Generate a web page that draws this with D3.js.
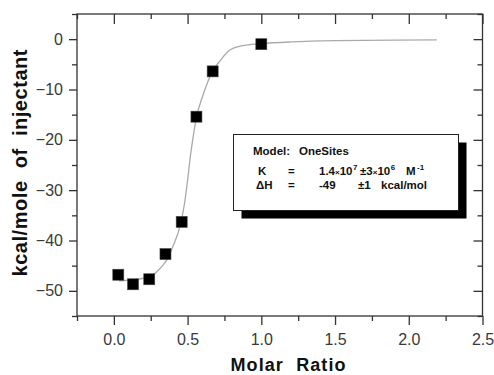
<!DOCTYPE html>
<html>
<head>
<meta charset="utf-8">
<script src="https://cdn.jsdelivr.net/npm/d3@7"></script>
<style>
  body { margin: 0; background: #fff; }
  svg { display: block; font-family: "Liberation Sans", Arial, sans-serif; }
</style>
</head>
<body>
<svg id="chart" width="494" height="375"></svg>
<script>
// injection points
const molarRatio = [0.03, 0.13, 0.24, 0.35, 0.46, 0.56, 0.67, 1.0]
const heat = [-46.8, -48.7, -47.7, -42.7, -36.3, -15.4, -6.4, -1.0]

// fitted curve
const fitX = [0.035, 0.1, 0.2, 0.28, 0.33, 0.37, 0.40, 0.45, 0.48, 0.50, 0.52, 0.54, 0.56, 0.60, 0.63, 0.67, 0.72, 0.78, 0.87, 1.0, 1.2, 1.5, 1.9, 2.19]
const fitY = [-48.0, -47.9, -47.5, -46.5, -45.0, -43.3, -41.2, -37.0, -32.5, -28.0, -23.0, -19.0, -15.5, -11.5, -9.0, -6.3, -4.3, -2.3, -1.3, -0.9, -0.55, -0.3, -0.2, -0.15]

const xMajor = [0.0, 0.5, 1.0, 1.5, 2.0, 2.5]
const xMinor = [-0.25, 0.25, 0.75, 1.25, 1.75, 2.25]
const yMajor = [-50, -40, -30, -20, -10, 0]
const yMinor = [-55, -45, -35, -25, -15, -5, 5]

const margin = { top: 14, left: 77, right: 11.5, bottom: 59 },
    width = 494 - margin.left - margin.right,
    height = 375 - margin.top - margin.bottom

const svg = d3.select("#chart")
const g = svg.append("g").attr("transform", `translate(${margin.left},${margin.top})`)

const x = d3.scaleLinear().domain([-0.25, 2.5]).range([0, width])
const y = d3.scaleLinear().domain([-55, 5]).range([height, 0])

const frameColor = "#333"
const fmtX = d3.format(".1f")

function styleAxis(sel) {
    sel.select(".domain").remove()
    sel.selectAll("line").attr("stroke", frameColor).attr("stroke-width", 1.3)
    sel.selectAll("text")
        .attr("fill", "#3a3a3a")
        .style("font-size", "16px")
        .style("font-family", "'Liberation Sans', Arial, sans-serif")
}

// bottom axis
g.append("g").attr("transform", `translate(0,${height})`)
    .call(d3.axisBottom(x).tickValues(xMajor).tickSize(9).tickPadding(9).tickFormat(fmtX))
    .call(styleAxis)
g.append("g").attr("transform", `translate(0,${height})`)
    .call(d3.axisBottom(x).tickValues(xMinor).tickSize(5).tickFormat(""))
    .call(styleAxis)

// left axis
g.append("g")
    .call(d3.axisLeft(y).tickValues(yMajor).tickSize(8).tickPadding(6))
    .call(styleAxis)
g.append("g")
    .call(d3.axisLeft(y).tickValues(yMinor).tickSize(5).tickFormat(""))
    .call(styleAxis)

// top axis, ticks inward
g.append("g")
    .call(d3.axisTop(x).tickValues(xMajor).tickSize(-10).tickFormat(""))
    .call(styleAxis)
g.append("g")
    .call(d3.axisTop(x).tickValues(xMinor).tickSize(-5).tickFormat(""))
    .call(styleAxis)

// right axis, ticks inward
g.append("g").attr("transform", `translate(${width},0)`)
    .call(d3.axisRight(y).tickValues(yMajor).tickSize(-9).tickFormat(""))
    .call(styleAxis)
g.append("g").attr("transform", `translate(${width},0)`)
    .call(d3.axisRight(y).tickValues(yMinor).tickSize(-5).tickFormat(""))
    .call(styleAxis)

// frame
g.append("rect")
    .attr("width", width)
    .attr("height", height)
    .attr("fill", "none")
    .attr("stroke", frameColor)
    .attr("stroke-width", 1.3)

// fit line
const line = d3.line()
    .x((d, i) => x(fitX[i]))
    .y((d, i) => y(fitY[i]))
    .curve(d3.curveMonotoneX)

g.append("path")
    .datum(fitX)
    .attr("d", line)
    .attr("fill", "none")
    .attr("stroke", "#aaa")
    .attr("stroke-width", 1.3)

// data squares
const sq = 11
g.selectAll("rect.pt")
    .data(molarRatio)
    .enter()
    .append("rect")
    .attr("class", "pt")
    .attr("x", d => x(d) - sq / 2)
    .attr("y", (d, i) => y(heat[i]) - sq / 2)
    .attr("width", sq)
    .attr("height", sq)
    .attr("fill", "#000")
    .attr("stroke", "#444")
    .attr("stroke-width", 0.6)

// result box with drop shadow
const box = { x: 233.5, y: 134.5, w: 225, h: 76, off: 8 }
svg.append("rect")
    .attr("x", box.x + box.off).attr("y", box.y + box.off)
    .attr("width", box.w).attr("height", box.h)
    .attr("fill", "#000")
svg.append("rect")
    .attr("x", box.x).attr("y", box.y)
    .attr("width", box.w).attr("height", box.h)
    .attr("fill", "#fff")
    .attr("stroke", "#222")
    .attr("stroke-width", 1)

const boxText = svg.append("g")
    .style("font-size", "11.5px")
    .style("font-weight", "bold")
    .attr("fill", "#111")

function put(xp, yp, txt) {
    return boxText.append("text").attr("x", xp).attr("y", yp).text(txt)
}
// number times ten with a small "x" and a raised exponent
function sci(xp, yp, lead, expo) {
    const t = boxText.append("text").attr("x", xp).attr("y", yp)
    t.append("tspan").text(lead)
    t.append("tspan").style("font-size", "8px").text("\u00d7")
    t.append("tspan").text("10")
    t.append("tspan").attr("dy", -5).attr("dx", 0.5).style("font-size", "8px").text(expo)
    return t
}

put(253, 155, "Model:")
put(299, 155, "OneSites")

put(258, 175, "K")
put(288, 175, "=")
sci(319, 175, "1.4", "7")
sci(360, 175, "\u00b13", "6")
put(406, 175, "M")
boxText.append("text").attr("x", 417).attr("y", 170)
    .style("font-size", "8px").text("-1")

put(256, 189, "\u0394H")
put(288, 189, "=")
put(319, 189, "-49")
put(358, 189, "\u00b11")
put(381, 189, "kcal/mol")

// axis titles
svg.append("text")
    .attr("transform", "translate(27,163) rotate(-90)")
    .attr("text-anchor", "middle")
    .attr("textLength", 227)
    .attr("lengthAdjust", "spacing")
    .style("font-size", "20px")
    .style("font-weight", "bold")
    .style("white-space", "pre")
    .attr("fill", "#111")
    .text("kcal/mole  of  injectant")

svg.append("text")
    .attr("x", 288)
    .attr("y", 371)
    .attr("text-anchor", "middle")
    .attr("textLength", 115)
    .attr("lengthAdjust", "spacing")
    .style("font-size", "18px")
    .style("font-weight", "bold")
    .style("white-space", "pre")
    .attr("fill", "#111")
    .text("Molar  Ratio")
</script>
</body>
</html>
